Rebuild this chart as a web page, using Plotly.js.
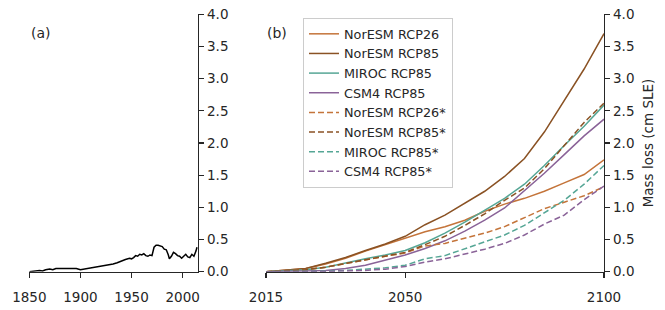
<!DOCTYPE html>
<html>
<head>
<meta charset="utf-8">
<script src="https://cdn.plot.ly/plotly-3.0.1.min.js"></script>
<style>html,body{margin:0;padding:0;background:#fff}#chart{width:665px;height:310px}</style>
</head>
<body>
<div id="chart"></div>
<script>
// ---- Panel (a): historical mass loss ----
const histYears = [1850,1855,1860,1863,1866,1870,1873,1876,1880,1884,1888,1892,1896,1900,1904,1908,1912,1916,1920,1924,1928,1932,1936,1940,1944,1948,1950,1952,1954,1956,1958,1960,1962,1964,1966,1968,1970,1972,1974,1976,1978,1980,1982,1984,1986,1987,1989,1991,1993,1995,1997,1999,2001,2003,2005,2007,2009,2011,2013,2014];
const histLoss  = [0.00,0.01,0.02,0.01,0.03,0.04,0.03,0.05,0.05,0.04,0.05,0.04,0.05,0.03,0.04,0.05,0.06,0.07,0.08,0.09,0.10,0.12,0.14,0.17,0.19,0.21,0.20,0.22,0.25,0.24,0.27,0.26,0.28,0.25,0.24,0.26,0.25,0.38,0.41,0.41,0.40,0.39,0.35,0.34,0.26,0.20,0.24,0.30,0.28,0.25,0.24,0.21,0.24,0.27,0.23,0.22,0.27,0.24,0.32,0.38];

// ---- Panel (b): projections ----
const projYears = [2015,2020,2025,2030,2035,2040,2045,2050,2055,2060,2065,2070,2075,2080,2085,2090,2095,2100];
const norRCP26  = [0,0.02,0.05,0.12,0.21,0.32,0.42,0.53,0.62,0.70,0.80,0.94,1.05,1.14,1.25,1.38,1.51,1.74];
const norRCP85  = [0,0.02,0.05,0.13,0.22,0.33,0.43,0.55,0.73,0.88,1.06,1.25,1.48,1.76,2.17,2.65,3.15,3.70];
const mirRCP85  = [0,0.01,0.03,0.07,0.14,0.20,0.26,0.33,0.45,0.60,0.77,0.96,1.14,1.36,1.65,1.96,2.26,2.59];
const csmRCP85  = [0,0.00,0.01,0.02,0.05,0.10,0.18,0.26,0.36,0.48,0.63,0.80,0.99,1.26,1.53,1.82,2.11,2.37];
const norRCP26s = [0,0.01,0.03,0.07,0.13,0.18,0.24,0.29,0.40,0.44,0.52,0.60,0.70,0.84,0.98,1.08,1.18,1.32];
const norRCP85s = [0,0.01,0.03,0.07,0.13,0.18,0.24,0.30,0.42,0.55,0.72,0.90,1.11,1.30,1.60,1.96,2.32,2.62];
const mirRCP85s = [0,0.00,0.00,0.01,0.02,0.04,0.06,0.10,0.20,0.25,0.36,0.46,0.57,0.72,0.91,1.11,1.36,1.65];
const csmRCP85s = [0,0.00,0.00,0.00,0.01,0.02,0.04,0.08,0.15,0.20,0.27,0.35,0.44,0.57,0.74,0.88,1.12,1.33];

const seriesNames = ['NorESM RCP26','NorESM RCP85','MIROC RCP85','CSM4 RCP85','NorESM RCP26*','NorESM RCP85*','MIROC RCP85*','CSM4 RCP85*'];
const seriesData  = [norRCP26,norRCP85,mirRCP85,csmRCP85,norRCP26s,norRCP85s,mirRCP85s,csmRCP85s];
const seriesColor = ['#c4743a','#8a5224','#55a695','#8a6398','#c4743a','#8a5224','#55a695','#8a6398'];
const seriesDash  = ['solid','solid','solid','solid','6px,3px','6px,3px','6px,3px','6px,3px'];

const xTicksA = [1850,1900,1950,2000];
const xTicksB = [2015,2050,2100];
const yTicks  = [0,0.5,1,1.5,2,2.5,3,3.5,4];
const yTickText = yTicks.map(v => v.toFixed(1));

const FONT = 'DejaVu Sans, sans-serif';
const INK = '#262626';

const traces = [{
  x: histYears, y: histLoss, xaxis: 'x', yaxis: 'y', mode: 'lines',
  line: {color: '#000', width: 1.5}, showlegend: false, hoverinfo: 'skip'
}];
seriesNames.forEach((n, i) => traces.push({
  x: projYears, y: seriesData[i], xaxis: 'x2', yaxis: 'y2', mode: 'lines', name: n,
  line: {color: seriesColor[i], width: 1.5, dash: seriesDash[i]}
}));

const axisCommon = {
  showline: true, linecolor: INK, linewidth: 1.3, ticks: 'outside', ticklen: 5,
  tickwidth: 1.3, tickcolor: INK, showgrid: false, zeroline: false,
  tickfont: {family: FONT, size: 13.5, color: INK}
};
const H = 310, W = 665;
const yDom = [(H - 271.7) / H, (H - 14.3) / H];

const layout = {
  width: W, height: H, margin: {l: 0, r: 0, t: 0, b: 0},
  paper_bgcolor: '#fff', plot_bgcolor: 'rgba(0,0,0,0)',
  font: {family: FONT, size: 13, color: INK},
  showlegend: true,
  xaxis: Object.assign({}, axisCommon, {domain: [29.3 / W, 198 / W], range: [1850, 2015],
    tickvals: xTicksA, ticktext: xTicksA.map(String), anchor: 'y', ticklabelstandoff: 8}),
  yaxis: Object.assign({}, axisCommon, {domain: yDom, range: [0, 4], side: 'right', anchor: 'x',
    tickvals: yTicks, ticktext: yTickText}),
  xaxis2: Object.assign({}, axisCommon, {domain: [266 / W, 604 / W], range: [2015, 2100],
    tickvals: xTicksB, ticktext: xTicksB.map(String), anchor: 'y2', ticklabelstandoff: 8}),
  yaxis2: Object.assign({}, axisCommon, {domain: yDom, range: [0, 4], side: 'right', anchor: 'x2',
    tickvals: yTicks, ticktext: yTickText,
    title: {text: 'Mass loss (cm SLE)', font: {family: FONT, size: 13.5, color: INK}, standoff: 10}}),
  legend: {x: 303 / W, y: 1 - 18 / H, xanchor: 'left', yanchor: 'top',
    bgcolor: 'rgba(255,255,255,0.85)', bordercolor: '#cccccc', borderwidth: 1,
    entrywidth: 115, entrywidthmode: 'pixels',
    font: {family: FONT, size: 12.8, color: INK}, tracegroupgap: 0},
  annotations: [
    {text: '(a)', xref: 'paper', yref: 'paper', x: 29 / W, y: 1 - 33 / H, xanchor: 'left', yanchor: 'middle', showarrow: false, font: {family: FONT, size: 14, color: INK}},
    {text: '(b)', xref: 'paper', yref: 'paper', x: 265 / W, y: 1 - 33 / H, xanchor: 'left', yanchor: 'middle', showarrow: false, font: {family: FONT, size: 14, color: INK}}
  ]
};

Plotly.newPlot('chart', traces, layout, {displayModeBar: false, staticPlot: true});
</script>
</body>
</html>
